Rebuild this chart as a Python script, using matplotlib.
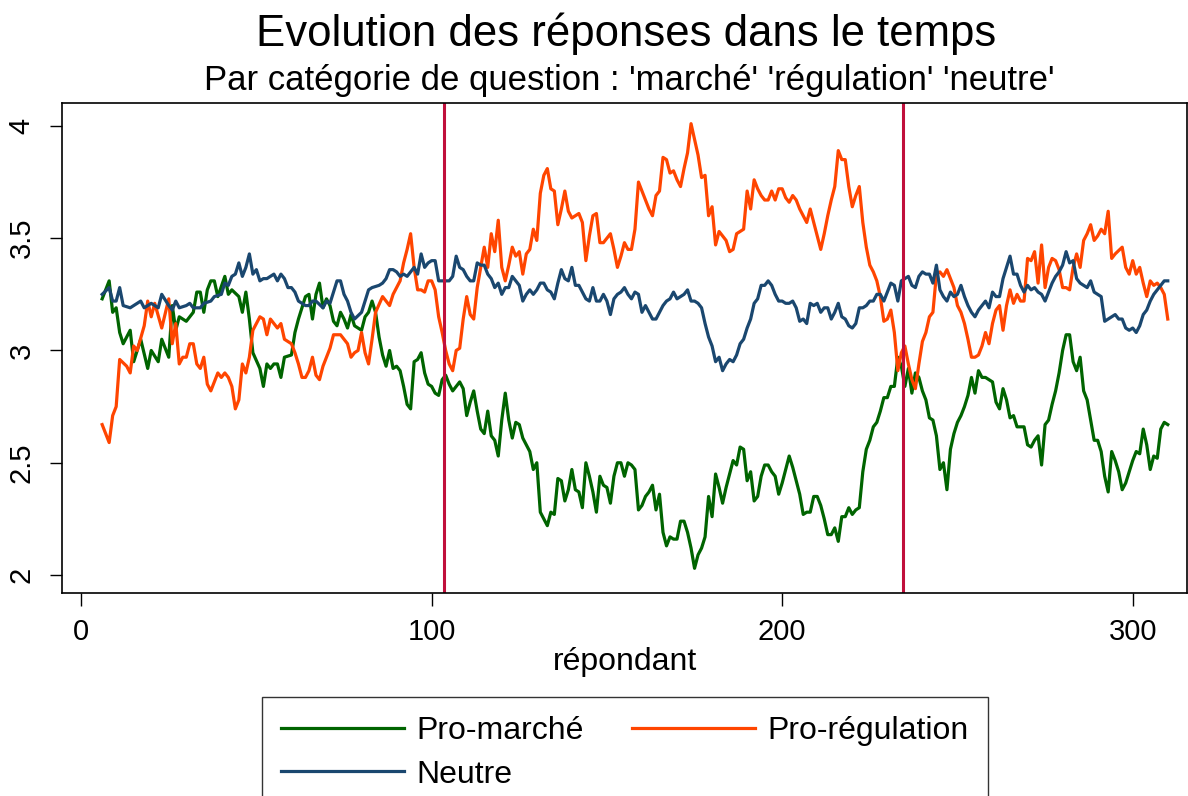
import matplotlib
matplotlib.use("Agg")
import matplotlib.pyplot as plt

plt.rcParams['font.family'] = ['Liberation Sans', 'DejaVu Sans']

# --- data (respondent index, mean answer) ---
resp_marche = [6, 8, 9, 10, 11, 12, 14, 15, 17, 19, 20, 22, 23, 25, 26, 27, 28, 30, 32, 33,
               34, 35, 36, 37, 38, 39, 41, 42, 43, 45, 46, 47, 48, 49, 51, 52, 53, 54, 55, 56,
               57, 58, 60, 61, 62, 63, 64, 65, 66, 67, 68, 69, 70, 71, 72, 73, 74, 75, 76, 77,
               78, 80, 81, 82, 83, 84, 85, 86, 87, 88, 89, 90, 91, 92, 93, 94, 95, 96, 97, 98,
               99, 100, 101, 102, 103, 104, 105, 106, 107, 108, 109, 110, 111, 112, 113, 114,
               115, 116, 117, 118, 119, 120, 121, 122, 123, 124, 125, 126, 127, 128, 129, 130,
               131, 132, 133, 134, 135, 136, 137, 138, 139, 140, 141, 142, 143, 144, 145, 146,
               147, 148, 149, 150, 151, 152, 153, 154, 155, 156, 157, 158, 159, 160, 161, 162,
               163, 164, 165, 166, 167, 168, 169, 170, 171, 172, 173, 174, 175, 176, 177, 178,
               179, 180, 181, 182, 183, 184, 185, 186, 187, 188, 189, 190, 191, 192, 193, 194,
               195, 196, 197, 198, 199, 200, 201, 202, 203, 204, 205, 206, 207, 208, 209, 210,
               211, 212, 213, 214, 215, 216, 217, 218, 219, 220, 221, 222, 223, 224, 225, 226,
               227, 228, 229, 230, 231, 232, 233, 234, 235, 236, 237, 238, 239, 240, 241, 242,
               243, 244, 245, 246, 247, 248, 249, 250, 251, 252, 253, 254, 255, 256, 257, 258,
               259, 260, 261, 262, 263, 264, 265, 266, 267, 268, 269, 270, 271, 272, 273, 274,
               275, 276, 277, 278, 279, 280, 281, 282, 283, 284, 285, 286, 287, 288, 289, 290,
               291, 292, 293, 294, 295, 296, 297, 298, 299, 300, 301, 302, 303, 304, 305, 306,
               307, 308, 309, 310]
pro_marche = [3.23, 3.31, 3.17, 3.19, 3.08, 3.03, 3.09, 2.95, 3.05, 2.92, 3.00, 2.95, 3.05, 2.97,
              3.20, 3.09, 3.15, 3.13, 3.17, 3.26, 3.26, 3.17, 3.27, 3.31, 3.31, 3.24, 3.33, 3.25,
              3.27, 3.24, 3.17, 3.26, 3.14, 2.99, 2.92, 2.84, 2.94, 2.92, 2.94, 2.94, 2.88, 2.97,
              2.98, 3.08, 3.14, 3.19, 3.24, 3.25, 3.14, 3.25, 3.30, 3.19, 3.23, 3.20, 3.13, 3.11,
              3.17, 3.14, 3.10, 3.16, 3.11, 3.09, 3.15, 3.17, 3.22, 3.17, 3.06, 2.98, 2.93, 3.00,
              2.92, 2.93, 2.91, 2.84, 2.76, 2.74, 2.95, 2.96, 2.99, 2.90, 2.85, 2.84, 2.81, 2.80,
              2.87, 2.89, 2.85, 2.82, 2.84, 2.86, 2.83, 2.71, 2.77, 2.82, 2.73, 2.65, 2.63, 2.73,
              2.62, 2.60, 2.53, 2.69, 2.81, 2.69, 2.61, 2.68, 2.67, 2.61, 2.58, 2.55, 2.47, 2.50,
              2.28, 2.25, 2.22, 2.28, 2.27, 2.43, 2.42, 2.33, 2.38, 2.47, 2.38, 2.37, 2.30, 2.50,
              2.44, 2.37, 2.28, 2.44, 2.40, 2.39, 2.32, 2.44, 2.50, 2.50, 2.44, 2.50, 2.49, 2.47,
              2.29, 2.31, 2.35, 2.37, 2.40, 2.29, 2.36, 2.19, 2.13, 2.17, 2.16, 2.16, 2.24, 2.24,
              2.19, 2.12, 2.03, 2.09, 2.12, 2.17, 2.35, 2.26, 2.45, 2.39, 2.32, 2.39, 2.45, 2.51,
              2.49, 2.57, 2.56, 2.42, 2.46, 2.33, 2.35, 2.44, 2.49, 2.49, 2.46, 2.44, 2.36, 2.41,
              2.47, 2.53, 2.48, 2.42, 2.36, 2.27, 2.28, 2.28, 2.35, 2.35, 2.31, 2.25, 2.18, 2.18,
              2.21, 2.15, 2.26, 2.26, 2.30, 2.27, 2.29, 2.30, 2.46, 2.56, 2.60, 2.66, 2.68, 2.73,
              2.79, 2.79, 2.84, 2.84, 2.97, 2.93, 2.84, 2.92, 2.81, 2.90, 2.88, 2.82, 2.78, 2.70,
              2.69, 2.62, 2.47, 2.50, 2.38, 2.56, 2.63, 2.68, 2.71, 2.75, 2.80, 2.88, 2.81, 2.91,
              2.88, 2.88, 2.87, 2.86, 2.77, 2.74, 2.83, 2.78, 2.70, 2.71, 2.66, 2.66, 2.66, 2.58,
              2.57, 2.60, 2.62, 2.49, 2.67, 2.69, 2.76, 2.82, 2.90, 3.00, 3.07, 3.07, 2.95, 2.91,
              2.97, 2.82, 2.78, 2.69, 2.60, 2.60, 2.55, 2.44, 2.37, 2.55, 2.51, 2.46, 2.38, 2.41,
              2.46, 2.51, 2.55, 2.54, 2.65, 2.58, 2.47, 2.53, 2.52, 2.65, 2.68, 2.67]

resp_regul = [6, 8, 9, 10, 11, 13, 14, 15, 16, 18, 19, 20, 21, 23, 25, 26, 27, 28, 29, 30,
              31, 32, 33, 34, 35, 36, 37, 39, 40, 41, 42, 43, 44, 45, 46, 47, 48, 49, 50, 51,
              52, 53, 54, 55, 56, 57, 58, 60, 61, 62, 63, 64, 65, 66, 67, 68, 69, 70, 71, 72,
              74, 75, 76, 77, 78, 79, 80, 81, 82, 83, 84, 86, 87, 88, 89, 90, 91, 92, 93, 94,
              95, 96, 97, 98, 99, 100, 101, 102, 103, 104, 105, 106, 107, 108, 109, 110, 111,
              112, 113, 114, 115, 116, 117, 118, 119, 120, 121, 122, 123, 124, 125, 126, 127,
              128, 129, 130, 131, 132, 133, 134, 135, 136, 137, 138, 139, 140, 141, 142, 143,
              144, 145, 146, 147, 148, 149, 150, 151, 152, 153, 154, 155, 156, 157, 158, 159,
              160, 161, 162, 163, 164, 165, 166, 167, 168, 169, 170, 171, 172, 173, 174, 175,
              176, 177, 178, 179, 180, 181, 182, 183, 184, 185, 186, 187, 188, 189, 190, 191,
              192, 193, 194, 195, 196, 197, 198, 199, 200, 201, 202, 203, 204, 205, 206, 207,
              208, 209, 210, 211, 212, 213, 214, 215, 216, 217, 218, 219, 220, 221, 222, 223,
              224, 225, 226, 227, 228, 229, 230, 231, 232, 233, 234, 235, 236, 237, 238, 239,
              240, 241, 242, 243, 244, 245, 246, 247, 248, 249, 250, 251, 252, 253, 254, 255,
              256, 257, 258, 259, 260, 261, 262, 263, 264, 265, 266, 267, 268, 269, 270, 271,
              272, 273, 274, 275, 276, 277, 278, 279, 280, 281, 282, 283, 284, 285, 286, 287,
              288, 289, 290, 291, 292, 293, 294, 295, 297, 298, 299, 300, 301, 302, 303, 304,
              305, 306, 307, 308, 309, 310]
pro_regul = [2.67, 2.59, 2.71, 2.75, 2.96, 2.93, 2.90, 3.02, 3.00, 3.11, 3.22, 3.15, 3.21, 3.10,
             3.23, 3.03, 3.12, 2.94, 2.97, 2.97, 3.03, 3.03, 2.94, 2.92, 2.97, 2.85, 2.82, 2.90,
             2.88, 2.90, 2.88, 2.84, 2.74, 2.78, 2.94, 2.90, 2.97, 3.09, 3.12, 3.15, 3.14, 3.07,
             3.14, 3.12, 3.10, 3.12, 3.05, 3.03, 2.99, 2.94, 2.88, 2.88, 2.91, 2.97, 2.89, 2.87,
             2.93, 2.97, 3.01, 3.07, 3.07, 3.05, 3.03, 2.97, 2.99, 3.00, 3.08, 2.99, 2.94, 3.05,
             3.17, 3.24, 3.22, 3.20, 3.25, 3.28, 3.31, 3.39, 3.45, 3.52, 3.37, 3.27, 3.27, 3.26,
             3.31, 3.31, 3.27, 3.15, 3.08, 3.00, 2.94, 2.91, 3.00, 3.01, 3.14, 3.24, 3.16, 3.14,
             3.28, 3.37, 3.46, 3.37, 3.52, 3.44, 3.58, 3.37, 3.31, 3.38, 3.46, 3.42, 3.44, 3.34,
             3.43, 3.45, 3.54, 3.49, 3.70, 3.78, 3.81, 3.72, 3.71, 3.56, 3.63, 3.71, 3.62, 3.59,
             3.60, 3.61, 3.57, 3.40, 3.51, 3.60, 3.61, 3.48, 3.48, 3.50, 3.52, 3.45, 3.37, 3.42,
             3.48, 3.45, 3.45, 3.54, 3.75, 3.71, 3.67, 3.63, 3.60, 3.69, 3.71, 3.86, 3.85, 3.79,
             3.80, 3.76, 3.73, 3.81, 3.88, 4.01, 3.94, 3.87, 3.77, 3.78, 3.60, 3.64, 3.47, 3.53,
             3.51, 3.49, 3.44, 3.45, 3.52, 3.53, 3.54, 3.71, 3.63, 3.76, 3.72, 3.69, 3.67, 3.67,
             3.71, 3.67, 3.72, 3.72, 3.68, 3.66, 3.69, 3.67, 3.63, 3.60, 3.57, 3.63, 3.57, 3.51,
             3.45, 3.52, 3.60, 3.67, 3.73, 3.89, 3.85, 3.85, 3.73, 3.64, 3.69, 3.73, 3.57, 3.46,
             3.38, 3.35, 3.31, 3.24, 3.13, 3.14, 3.18, 3.08, 2.91, 2.99, 3.02, 2.94, 2.87, 2.83,
             2.94, 3.04, 3.08, 3.15, 3.17, 3.34, 3.35, 3.33, 3.36, 3.32, 3.28, 3.20, 3.17, 3.12,
             3.05, 2.97, 2.97, 2.98, 3.02, 3.08, 3.03, 3.12, 3.18, 3.20, 3.09, 3.20, 3.27, 3.21,
             3.25, 3.22, 3.22, 3.41, 3.40, 3.44, 3.30, 3.47, 3.28, 3.37, 3.41, 3.40, 3.36, 3.28,
             3.28, 3.27, 3.37, 3.43, 3.37, 3.49, 3.52, 3.56, 3.49, 3.51, 3.54, 3.52, 3.62, 3.41,
             3.43, 3.46, 3.37, 3.34, 3.40, 3.34, 3.37, 3.30, 3.24, 3.31, 3.29, 3.30, 3.28, 3.25,
             3.14]

resp_neutre = [6, 8, 9, 10, 11, 12, 14, 15, 17, 18, 20, 22, 23, 25, 26, 27, 28, 30, 31, 32,
               34, 35, 37, 38, 40, 41, 42, 43, 44, 45, 46, 47, 48, 49, 50, 51, 52, 53, 55, 56,
               57, 58, 59, 60, 61, 62, 64, 65, 66, 67, 69, 70, 71, 72, 73, 74, 75, 76, 77, 78,
               80, 81, 82, 83, 85, 86, 87, 88, 89, 90, 91, 92, 93, 95, 96, 97, 98, 99, 100, 101,
               102, 104, 105, 106, 107, 108, 109, 110, 111, 112, 113, 114, 115, 116, 117, 118,
               119, 120, 121, 122, 123, 124, 125, 126, 127, 128, 129, 130, 131, 132, 133, 134,
               135, 136, 137, 138, 139, 140, 141, 142, 143, 144, 145, 146, 147, 148, 149, 150,
               151, 152, 153, 154, 155, 156, 157, 158, 159, 160, 161, 162, 163, 164, 165, 166,
               167, 168, 169, 170, 171, 172, 173, 174, 175, 176, 177, 178, 179, 180, 181, 182,
               183, 184, 185, 186, 187, 188, 189, 190, 191, 192, 193, 194, 195, 196, 197, 198,
               199, 200, 201, 202, 203, 204, 205, 206, 207, 208, 209, 210, 211, 212, 213, 214,
               215, 216, 217, 218, 219, 220, 221, 222, 223, 224, 225, 226, 227, 228, 229, 230,
               231, 232, 233, 234, 235, 236, 237, 238, 239, 240, 241, 242, 243, 244, 245, 246,
               247, 248, 249, 250, 251, 252, 253, 254, 255, 256, 258, 259, 260, 261, 262, 263,
               264, 265, 266, 267, 268, 269, 270, 271, 272, 273, 274, 275, 276, 277, 278, 279,
               280, 281, 282, 283, 284, 285, 286, 287, 288, 289, 290, 291, 292, 293, 294, 295,
               296, 297, 298, 299, 300, 301, 302, 303, 304, 305, 306, 307, 308, 309, 310]
neutre = [3.25, 3.28, 3.22, 3.22, 3.28, 3.20, 3.19, 3.20, 3.22, 3.19, 3.21, 3.19, 3.25, 3.20,
          3.18, 3.22, 3.19, 3.20, 3.21, 3.19, 3.19, 3.21, 3.22, 3.24, 3.25, 3.30, 3.29, 3.33,
          3.34, 3.39, 3.33, 3.37, 3.43, 3.34, 3.36, 3.31, 3.32, 3.32, 3.34, 3.31, 3.34, 3.32,
          3.28, 3.28, 3.26, 3.22, 3.20, 3.20, 3.22, 3.22, 3.19, 3.22, 3.21, 3.26, 3.31, 3.31,
          3.25, 3.22, 3.17, 3.14, 3.17, 3.22, 3.27, 3.28, 3.29, 3.30, 3.32, 3.36, 3.36, 3.35,
          3.33, 3.34, 3.33, 3.37, 3.34, 3.43, 3.37, 3.39, 3.40, 3.40, 3.31, 3.31, 3.31, 3.33,
          3.42, 3.37, 3.36, 3.33, 3.31, 3.31, 3.39, 3.38, 3.38, 3.34, 3.32, 3.28, 3.30, 3.25,
          3.28, 3.28, 3.33, 3.31, 3.29, 3.22, 3.25, 3.27, 3.25, 3.27, 3.30, 3.30, 3.27, 3.26,
          3.23, 3.30, 3.36, 3.32, 3.31, 3.37, 3.29, 3.29, 3.26, 3.23, 3.22, 3.28, 3.22, 3.22,
          3.25, 3.22, 3.16, 3.23, 3.25, 3.26, 3.28, 3.25, 3.23, 3.26, 3.25, 3.17, 3.20, 3.17,
          3.14, 3.14, 3.17, 3.20, 3.22, 3.23, 3.26, 3.23, 3.24, 3.25, 3.27, 3.22, 3.22, 3.21,
          3.19, 3.12, 3.06, 3.02, 2.95, 2.97, 2.91, 2.94, 2.96, 2.95, 2.98, 3.03, 3.05, 3.10,
          3.14, 3.21, 3.23, 3.29, 3.29, 3.31, 3.29, 3.25, 3.22, 3.22, 3.21, 3.21, 3.22, 3.19,
          3.13, 3.14, 3.12, 3.21, 3.20, 3.21, 3.17, 3.19, 3.19, 3.14, 3.17, 3.21, 3.15, 3.14,
          3.11, 3.10, 3.12, 3.19, 3.19, 3.20, 3.22, 3.22, 3.25, 3.25, 3.22, 3.26, 3.30, 3.29,
          3.22, 3.31, 3.32, 3.33, 3.29, 3.28, 3.33, 3.35, 3.34, 3.34, 3.30, 3.38, 3.27, 3.24,
          3.22, 3.26, 3.24, 3.25, 3.29, 3.24, 3.20, 3.17, 3.15, 3.18, 3.22, 3.19, 3.26, 3.24,
          3.24, 3.32, 3.37, 3.42, 3.34, 3.34, 3.29, 3.26, 3.29, 3.27, 3.28, 3.26, 3.25, 3.22,
          3.26, 3.30, 3.33, 3.35, 3.38, 3.44, 3.39, 3.40, 3.32, 3.30, 3.29, 3.28, 3.31, 3.26,
          3.25, 3.24, 3.13, 3.14, 3.15, 3.16, 3.14, 3.14, 3.10, 3.09, 3.10, 3.08, 3.11, 3.16,
          3.18, 3.22, 3.25, 3.27, 3.29, 3.31, 3.31]

breaks = [103.5, 234.5]
x_ticks = [0, 100, 200, 300]
y_ticks = [2, 2.5, 3, 3.5, 4]
y_labels = ['2', '2.5', '3', '3.5', '4']

fig = plt.figure(figsize=(11.88, 7.96), dpi=100)
ax = fig.add_axes([0.0522, 0.255, 0.947, 0.6156])

l1, = ax.plot(resp_marche, pro_marche, color='#006400', lw=2.3, label='Pro-marché')
l2, = ax.plot(resp_regul, pro_regul, color='#FF4500', lw=2.3, label='Pro-régulation')
l3, = ax.plot(resp_neutre, neutre, color='#1A476F', lw=2.3, label='Neutre')
for b in breaks:
    ax.axvline(b, color='#C0103C', lw=2.2)

ax.set_xlim(-5.45, 315.5)
ax.set_ylim(1.92, 4.102)
ax.set_xticks(x_ticks)
ax.set_yticks(y_ticks)
ax.set_yticklabels(y_labels, rotation=90, va='center')
ax.tick_params(axis='both', direction='out', length=9, width=1, labelsize=21)
ax.tick_params(axis='x', pad=9)
ax.tick_params(axis='y', pad=10)
for s in ax.spines.values():
    s.set_linewidth(1.2)

ax.set_xlabel('répondant', fontsize=23, labelpad=1)
fig.text(0.527, 0.958, 'Evolution des réponses dans le temps', ha='center', va='center', fontsize=31.5)
fig.text(0.530, 0.899, "Par catégorie de question : 'marché' 'régulation' 'neutre'",
         ha='center', va='center', fontsize=25)

# row-major order as in the original: marché, régulation / neutre
fig.legend(handles=[l1, l3, l2], loc='upper center', bbox_to_anchor=(0.526, 0.1244),
           ncol=2, fontsize=23, frameon=True, fancybox=False, edgecolor='black',
           handlelength=3.85, handletextpad=0.4, columnspacing=1.5,
           borderpad=0.6, labelspacing=0.42, borderaxespad=0)

fig.savefig('out.png', dpi=100)
